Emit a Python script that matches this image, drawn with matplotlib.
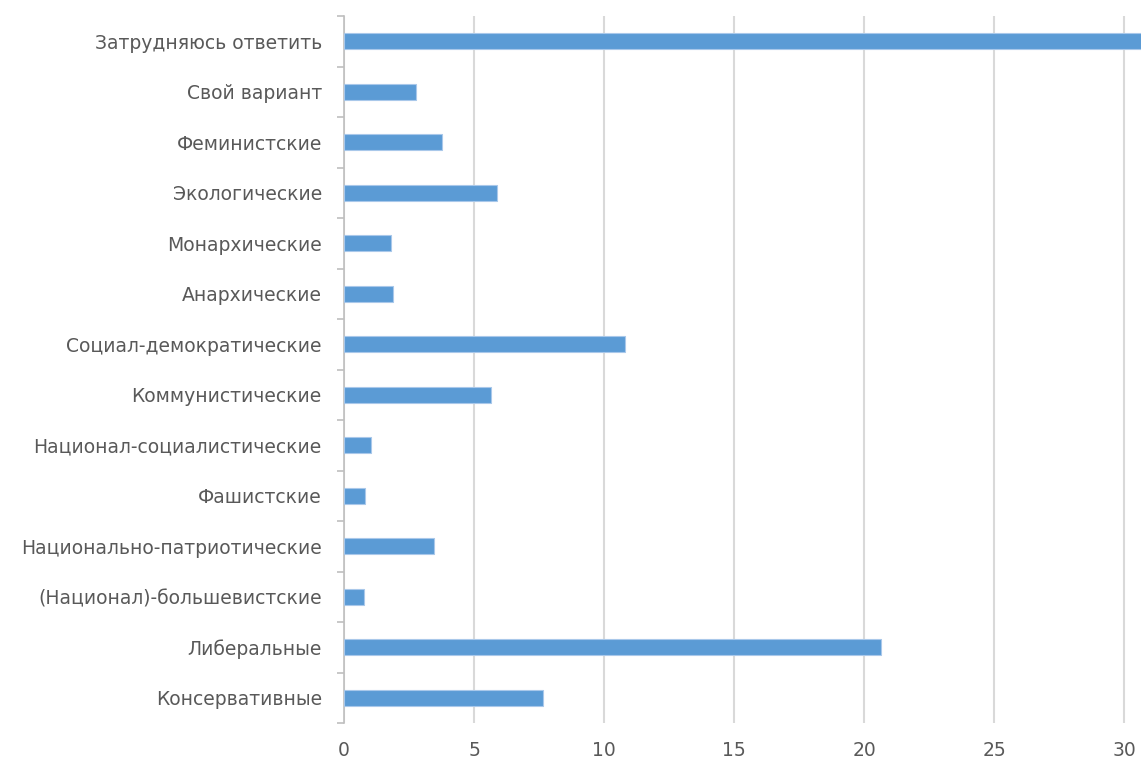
import numpy as np
import matplotlib.pyplot as plt

# categories top to bottom, as in the picture
categories = ["Затрудняюсь ответить", "Свой вариант", "Феминистские", "Экологические",
              "Монархические", "Анархические", "Социал-демократические", "Коммунистические",
              "Национал-социалистические", "Фашистские", "Национально-патриотические",
              "(Национал)-большевистские", "Либеральные", "Консервативные"]
values = [33.0, 2.75, 3.75, 5.9, 1.8, 1.9, 10.8, 5.65, 1.05, 0.8, 3.45, 0.75, 20.65, 7.65]
xticks = [0, 5, 10, 15, 20, 25, 30]

plt.rcParams['font.family'] = ['DejaVu Sans']

fig = plt.figure(figsize=(11.41, 7.63), dpi=100)
ax = fig.add_axes([0.3015, 0.0524, 0.6985, 0.9266])

y = np.arange(len(categories))
ax.barh(y, values, height=0.32, color='#5B9BD5', edgecolor='#A9C8EA', linewidth=0.8, zorder=3)

ax.set_ylim(len(categories) - 0.5, -0.5)
ax.set_xlim(0, 30.65)

ax.set_yticks(y)
ax.set_yticklabels(categories)
ax.set_yticks(np.arange(-0.5, len(categories)), minor=True)
ax.tick_params(axis='y', which='major', length=0, pad=16, labelsize=13.5, labelcolor='#595959')
ax.tick_params(axis='y', which='minor', length=5, width=1.2, color='#BFBFBF')

ax.set_xticks(xticks)
ax.tick_params(axis='x', length=0, pad=13, labelsize=13.5, labelcolor='#595959')
ax.grid(axis='x', color='#D9D9D9', linewidth=1.5, zorder=0)

for s in ['top', 'right', 'bottom']:
    ax.spines[s].set_visible(False)
ax.spines['left'].set_color('#BFBFBF')
ax.spines['left'].set_linewidth(1.2)

fig.savefig('out.png', dpi=100)
